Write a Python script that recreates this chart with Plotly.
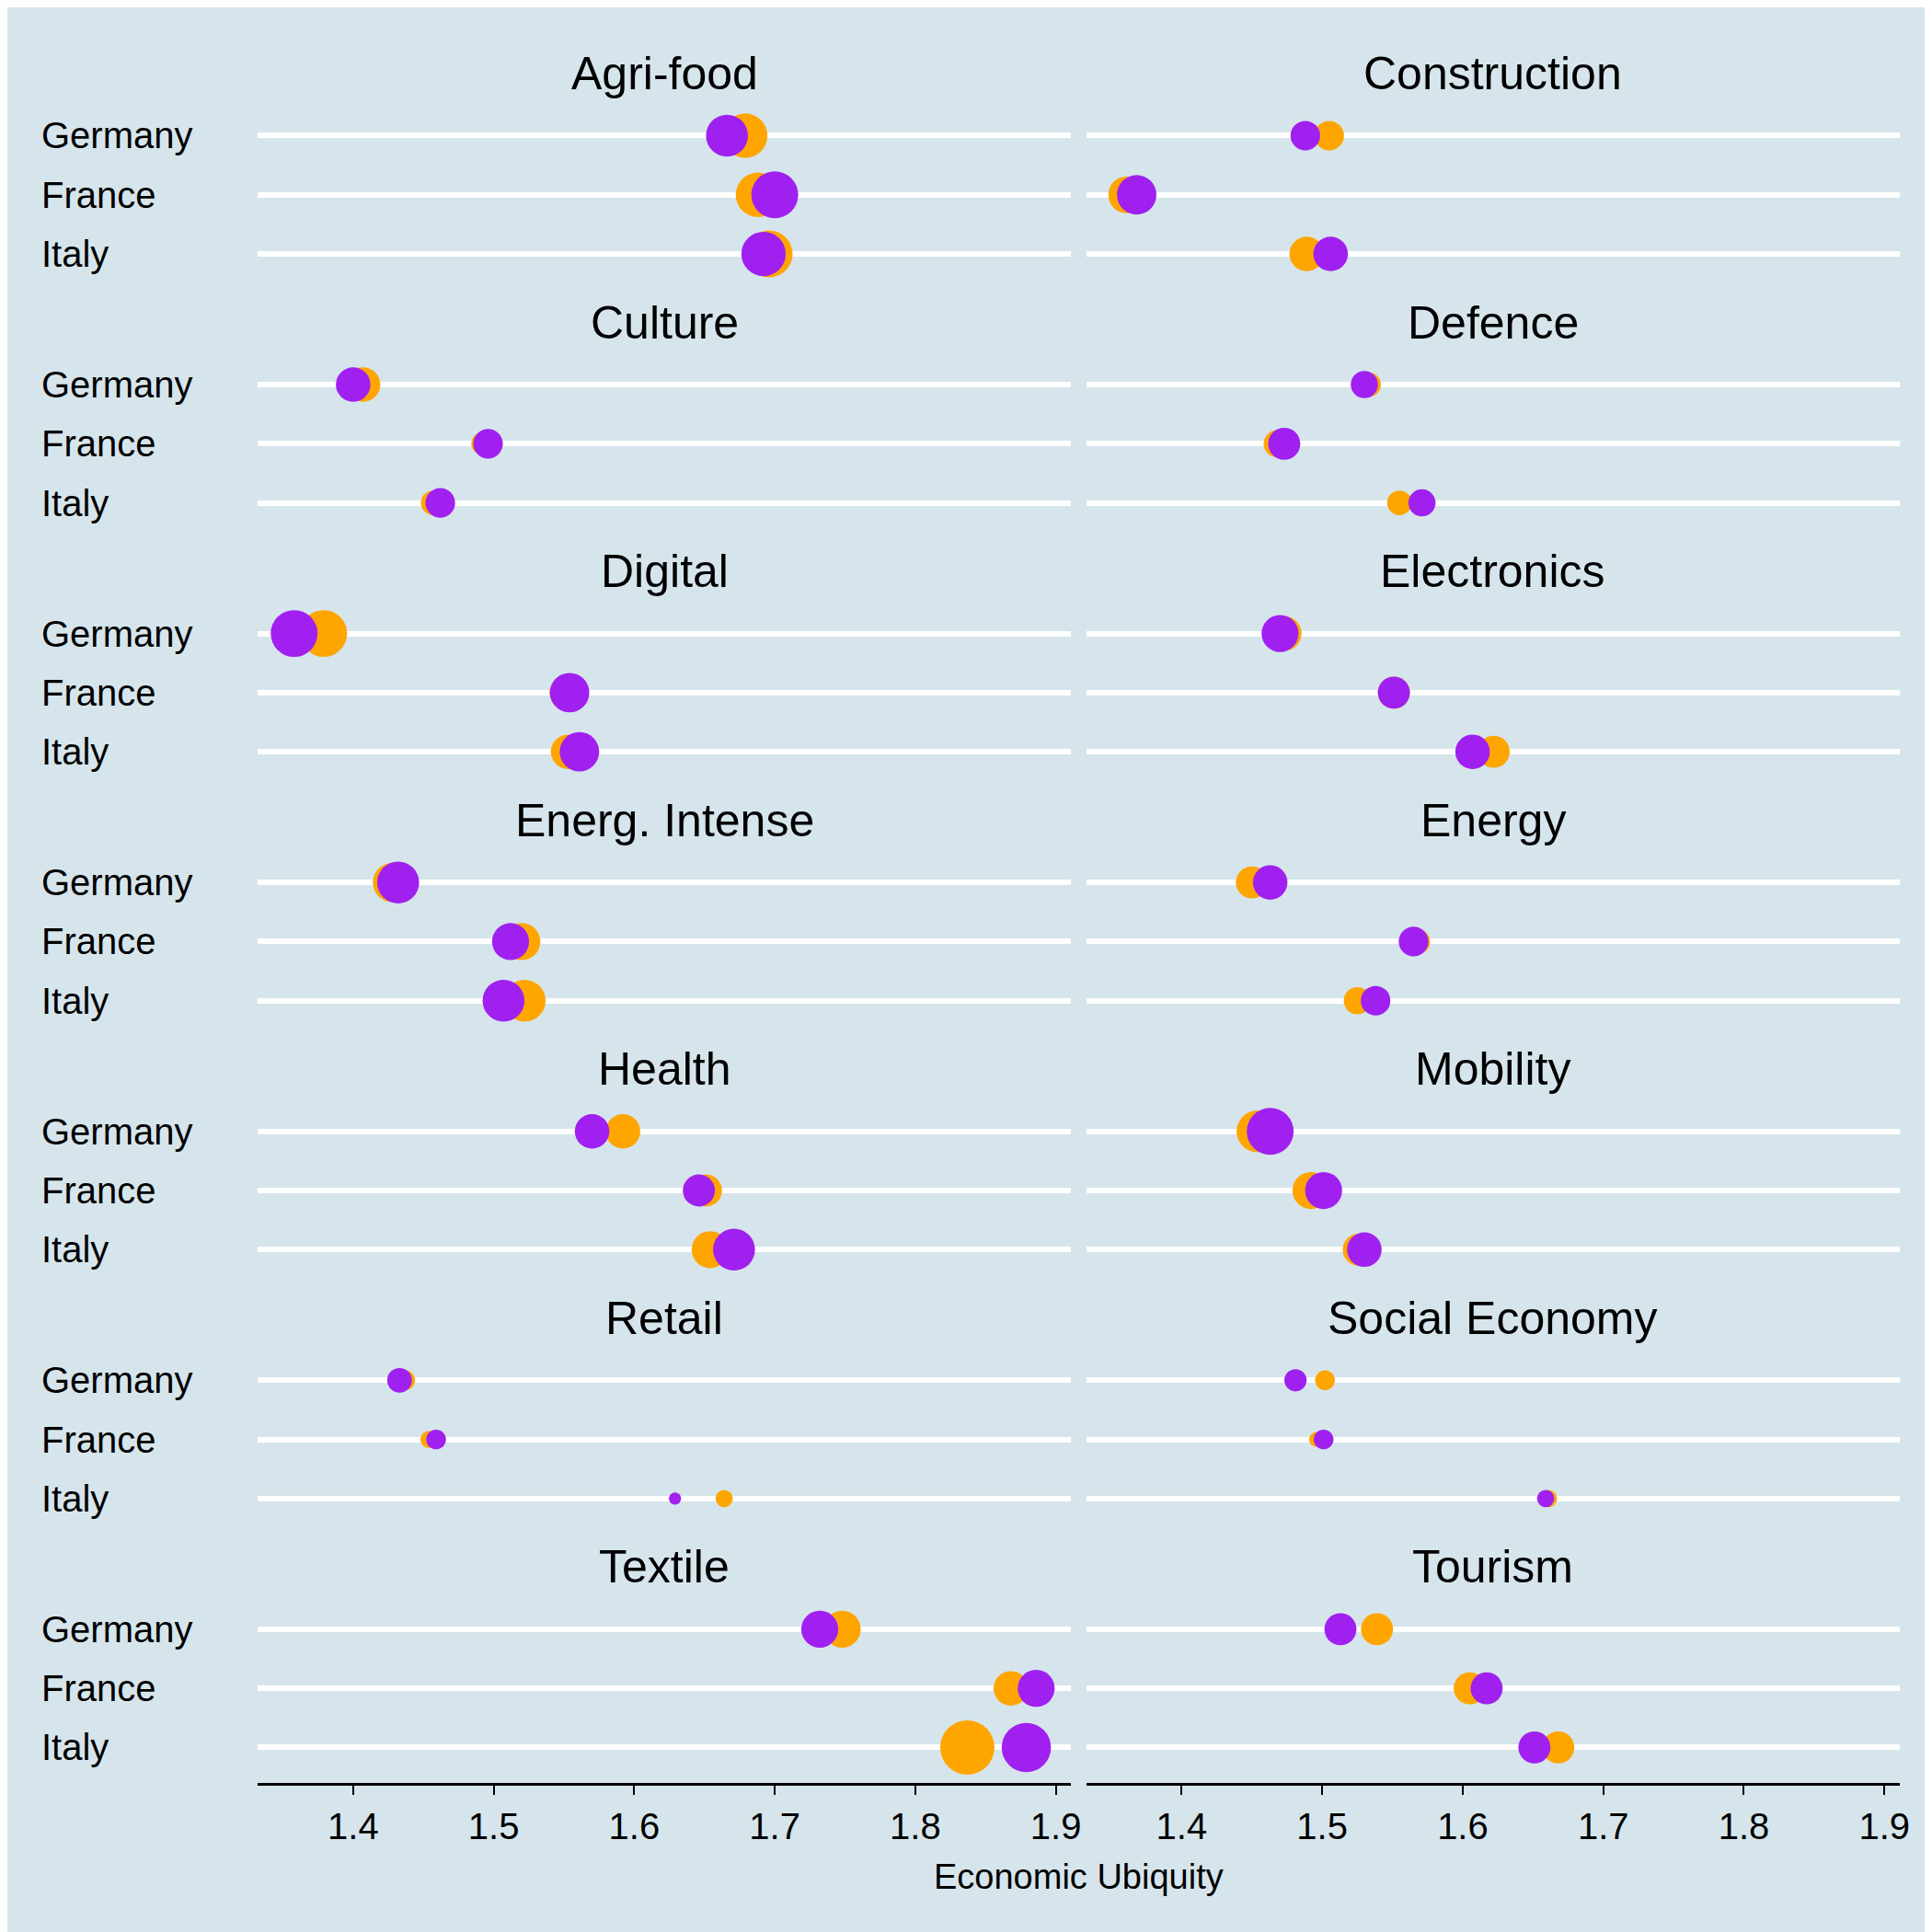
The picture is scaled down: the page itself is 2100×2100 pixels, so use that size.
import plotly.graph_objects as go
from plotly.subplots import make_subplots

sectors = ["Agri-food", "Construction", "Culture", "Defence", "Digital", "Electronics",
           "Energ. Intense", "Energy", "Health", "Mobility", "Retail", "Social Economy",
           "Textile", "Tourism"]
countries = ["Germany", "France", "Italy"]

# values per sector: [Germany, France, Italy]
orange_x = [[1.679, 1.688, 1.696], [1.505, 1.361, 1.489], [1.407, 1.492, 1.457],
            [1.533, 1.468, 1.555], [1.379, 1.552, 1.553], [1.473, 1.551, 1.622],
            [1.428, 1.520, 1.522], [1.450, 1.568, 1.525], [1.592, 1.651, 1.654],
            [1.454, 1.492, 1.526], [1.437, 1.454, 1.664], [1.502, 1.496, 1.661],
            [1.748, 1.868, 1.837], [1.539, 1.605, 1.668]]
purple_x = [[1.666, 1.700, 1.692], [1.488, 1.368, 1.506], [1.400, 1.496, 1.462],
            [1.530, 1.473, 1.571], [1.358, 1.554, 1.561], [1.470, 1.551, 1.607],
            [1.432, 1.512, 1.507], [1.463, 1.565, 1.538], [1.570, 1.646, 1.671],
            [1.463, 1.501, 1.530], [1.433, 1.459, 1.629], [1.481, 1.501, 1.659],
            [1.732, 1.886, 1.879], [1.513, 1.617, 1.651]]
orange_s = [[36, 36, 38], [24, 30, 28], [28, 18, 20], [20, 22, 20], [38, 28, 28], [28, 26, 26],
            [32, 30, 34], [26, 20, 22], [28, 26, 30], [34, 30, 26], [16, 14, 14], [16, 12, 14],
            [30, 28, 44], [26, 26, 26]]
purple_s = [[34, 38, 36], [24, 32, 28], [28, 24, 24], [22, 26, 22], [38, 32, 32], [30, 26, 28],
            [34, 30, 34], [28, 24, 24], [28, 26, 34], [38, 30, 28], [20, 16, 10], [18, 16, 14],
            [30, 30, 40], [26, 26, 26]]
x_ticks = [1.4, 1.5, 1.6, 1.7, 1.8, 1.9]

bg = "#d6e5ec"
font = "Liberation Sans, Arial, sans-serif"
yval = {"Germany": 2, "France": 1, "Italy": 0}
k = 1.34

fig = make_subplots(rows=7, cols=2, horizontal_spacing=0.009, vertical_spacing=0)

for i, sec in enumerate(sectors):
    r, c = i // 2 + 1, i % 2 + 1
    ys = [yval[cn] for cn in countries]
    fig.add_trace(go.Scatter(x=orange_x[i], y=ys, mode="markers",
                             marker=dict(color="#ffa500", size=[s * k for s in orange_s[i]],
                                         line_width=0, opacity=1),
                             showlegend=False), row=r, col=c)
    fig.add_trace(go.Scatter(x=purple_x[i], y=ys, mode="markers",
                             marker=dict(color="#a020f0", size=[s * k for s in purple_s[i]],
                                         line_width=0, opacity=1),
                             showlegend=False), row=r, col=c)
    ax = "" if i == 0 else str(i + 1)
    fig.add_annotation(text=sec, xref=f"x{ax} domain", yref=f"y{ax}", x=0.5, y=3.05,
                       showarrow=False, font=dict(size=50, color="black", family=font))
    if c == 1:
        for cn in countries:
            fig.add_annotation(text=cn, xref="paper", yref=f"y{ax}", x=-0.133, y=yval[cn],
                               xanchor="left", showarrow=False,
                               font=dict(size=40, color="black", family=font))

fig.update_xaxes(range=[1.332, 1.911], showgrid=False, zeroline=False, showticklabels=False,
                 tickvals=x_ticks)
fig.update_xaxes(showticklabels=True, ticks="outside", ticklen=10, tickwidth=2, tickcolor="black",
                 showline=True, linecolor="black", linewidth=3,
                 tickfont=dict(size=40, color="black", family=font), row=7)
fig.update_yaxes(range=[-0.6, 3.61], tickvals=[0, 1, 2], showticklabels=False,
                 showgrid=True, gridcolor="white", gridwidth=6, zeroline=False)

fig.add_annotation(text="Economic Ubiquity", xref="paper", yref="paper", x=0.5, y=-0.066,
                   showarrow=False, font=dict(size=38, color="black", family=font))

fig.update_layout(width=2100, height=2100, paper_bgcolor=bg, plot_bgcolor=bg,
                  margin=dict(l=272, r=43, t=36, b=170))
fig.write_html("out.html")
